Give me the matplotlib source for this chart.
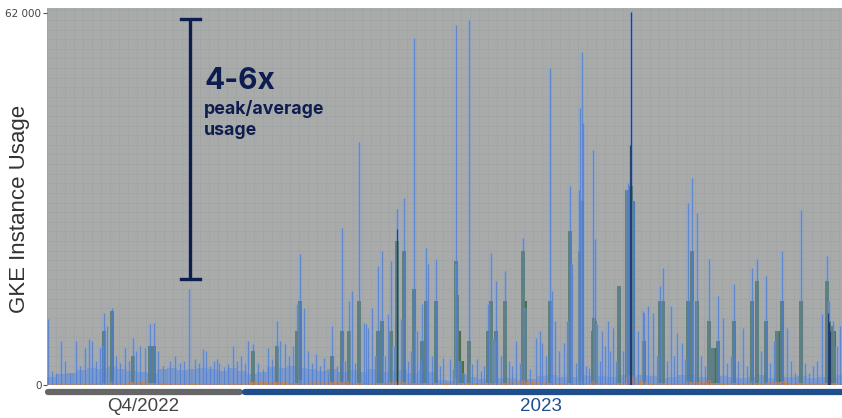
import matplotlib
matplotlib.use('Agg')
import matplotlib.pyplot as plt
from matplotlib.transforms import blended_transform_factory

# sample index along the time axis and GKE instance counts
blue_x = [1, 5, 9, 14, 18, 23, 29, 33, 38, 42,
          45, 49, 53, 55, 57, 60, 65, 69, 73, 78,
          82, 86, 89, 93, 98, 103, 107, 111, 116, 123,
          128, 133, 137, 142, 148, 152, 156, 159, 163, 167,
          170, 172, 177, 181, 186, 190, 194, 198, 201, 206,
          211, 216, 221, 225, 230, 233, 238, 242, 246, 250,
          253, 257, 261, 265, 269, 273, 277, 281, 285, 290,
          295, 298, 302, 305, 308, 312, 317, 319, 321, 325,
          328, 331, 335, 338, 341, 344, 347, 350, 354, 357,
          361, 364, 367, 370, 373, 375, 379, 381, 385, 389,
          393, 396, 403, 406, 409, 410, 413, 417, 422, 425,
          430, 434, 437, 441, 444, 446, 449, 450, 454, 458,
          462, 465, 469, 473, 476, 478, 483, 489, 493, 495,
          499, 503, 505, 508, 512, 517, 520, 523, 525, 529,
          532, 533, 535, 536, 539, 542, 546, 548, 550, 553,
          555, 558, 561, 563, 566, 569, 572, 576, 580, 581,
          584, 587, 591, 596, 597, 601, 606, 610, 613, 616,
          620, 624, 627, 630, 635, 638, 641, 645, 648, 650,
          654, 658, 662, 666, 671, 676, 680, 684, 687, 691,
          696, 700, 705, 710, 714, 719, 723, 727, 730, 735,
          740, 744, 748, 754, 758, 762, 766, 770, 775, 780,
          782, 786, 790, 793]
blue_y = [11000, 2300, 2000, 7300, 4000, 2000, 7300, 3200, 6200, 7700,
          7300, 4000, 6200, 6500, 12000, 9900, 12900, 4800, 3700, 6200,
          4000, 7800, 5700, 6500, 6200, 10200, 10400, 5700, 3200, 4000,
          4800, 3700, 4000, 16000, 4300, 3700, 6000, 5700, 3200, 4000,
          4300, 3700, 3000, 3500, 6500, 4000, 4800, 3700, 7300, 6800,
          3700, 2700, 6200, 4300, 10700, 7300, 6800, 4800, 6500, 13500,
          21900, 12900, 5700, 3700, 5200, 3200, 4500, 2000, 9900, 3200,
          26200, 4000, 14000, 15700, 3700, 40400, 10400, 10200, 9500, 12900,
          4800, 19900, 22400, 4800, 11900, 20700, 6500, 29400, 11000, 31200,
          4000, 5700, 57800, 9000, 4000, 13500, 22900, 20200, 4800, 21000,
          3200, 4500, 4300, 2700, 60000, 20200, 4000, 2000, 60800, 3500,
          4300, 2300, 3200, 13500, 22000, 7800, 17400, 7300, 4800, 19000,
          4000, 3200, 7300, 3700, 24500, 12900, 2700, 7800, 9000, 7000,
          4800, 52800, 15700, 10700, 5700, 7000, 10700, 33200, 20200, 3700,
          32400, 46100, 55400, 43600, 3200, 2800, 39100, 24400, 10200, 4000,
          9000, 6500, 10700, 5700, 9500, 4000, 16500, 5700, 32400, 33600,
          62100, 30700, 9000, 12400, 12000, 13200, 12000, 4800, 16500, 19500,
          4000, 13200, 4800, 8700, 7000, 4300, 30400, 34400, 14000, 28700,
          4800, 3200, 21000, 6200, 14900, 11200, 3700, 4800, 16900, 4000,
          9500, 3200, 19500, 21000, 5700, 18200, 3700, 7300, 9000, 22400,
          9500, 4000, 2000, 29100, 3700, 2000, 3200, 4000, 11900, 21500,
          14000, 10700, 6500, 9900]

green_x = [57, 65, 86, 103, 107, 206, 230, 250, 253, 285,
           295, 302, 312, 331, 335, 344, 350, 357, 367, 375,
           379, 389, 409, 410, 412, 415, 422, 441, 444, 449,
           458, 476, 478, 503, 523, 533, 535, 546, 547, 548,
           572, 580, 582, 584, 586, 597, 613, 616, 641, 645,
           650, 662, 666, 669, 671, 687, 705, 710, 719, 730,
           733, 735, 754, 780, 782, 784, 787]
green_y = [9000, 12400, 4800, 6500, 6500, 5700, 6500, 9000, 14000, 4800,
           9000, 9000, 14000, 9000, 10700, 9000, 24000, 22400, 16000, 7300,
           14000, 14000, 20700, 15000, 9000, 4000, 7300, 9000, 14000, 9000,
           14000, 22400, 14000, 14000, 25700, 22400, 30700, 9000, 11200, 10700,
           16500, 32400, 32400, 33200, 30700, 7300, 14000, 14000, 14000, 22400,
           14000, 10700, 6200, 6200, 7300, 10700, 14000, 17400, 10700, 9000,
           9000, 14000, 14000, 17400, 10700, 9900, 9000]

navy_x = [350, 583, 584, 781, 782, 783]
navy_y = [26000, 40000, 62100, 12000, 10500, 9000]

# low level background usage, one value per 10 samples
base_y = [1300, 1800, 2000, 2500, 2900, 2600, 3000, 2700, 2400, 2200,
          2000, 2600, 2800, 2500, 2700, 2900, 2600, 2400, 2800, 2300,
          1900, 2200, 3000, 2800, 3200, 2900, 2600, 2400, 2700, 2200,
          2500, 2200, 2600, 2100, 2300, 2500, 2000, 2400, 2200, 900,
          700, 1600, 1400, 1000, 900, 1100, 1200, 900, 1000, 1500,
          1700, 1400, 1300, 1600, 1500, 1500, 1400, 1700, 1300, 1600,
          1500, 1200, 1400, 1600, 1700, 1300, 1200, 1500, 1400, 1100,
          1300, 1600, 1200, 1400, 1300, 1500, 1200, 1400, 1300, 1600]
base_x = list(range(0, 800, 10))

# orange series: one value per 20 samples plus a few bumps
orange_base = [300, 400, 350, 300, 450, 400, 350, 400, 300, 350,
               500, 450, 400, 500, 450, 400, 350, 450, 300, 250,
               300, 350, 400, 450, 500, 400, 350, 300, 400, 450,
               350, 400, 450, 350, 300, 400, 450, 350, 400, 350]
orange_base_x = list(range(0, 800, 20))
orange_x = [65, 253, 300, 409, 476, 533, 546, 580, 582, 584, 586, 641, 662, 705, 735, 782]
orange_y = [600, 900, 700, 1100, 800, 900, 700, 1300, 1600, 1700, 1400, 700, 800, 700, 600, 800]

n_samples = 795
q4_end = 193
y_top = 62000

fig = plt.figure(figsize=(8.42, 4.18), dpi=100)
ax = fig.add_axes([47 / 842, 33 / 418, 795 / 842, 377 / 418])
ax.set_facecolor('#a9abab')

ax.bar(base_x, base_y, width=10, align='edge', color='#5a86d4', alpha=0.6, linewidth=0)
ax.vlines(blue_x, 0, blue_y, color='#86a8e4', alpha=0.35, linewidth=2.8)
ax.vlines(blue_x, 0, blue_y, color='#4a7bd2', alpha=0.7, linewidth=0.9)
ax.bar(green_x, green_y, width=3.4, color='#44683f', alpha=0.9, linewidth=0)
ax.vlines(navy_x, 0, navy_y, color='#14306a', alpha=0.8, linewidth=0.9)
ax.bar(orange_base_x, orange_base, width=20, align='edge', color='#e07b1f', alpha=0.85, linewidth=0)
ax.bar(orange_x, orange_y, width=3, color='#d0661a', alpha=0.95, linewidth=0)

ax.set_xlim(0, n_samples)
ax.set_ylim(0, 62800)

# fine grid
ax.set_xticks([], minor=False)
ax.set_xticks(range(0, n_samples, 9), minor=True)
ax.set_yticks(range(0, 62800, 1600), minor=True)
ax.set_yticks([0, y_top])
ax.set_yticklabels(['0', '62 000'], fontsize=7.5, color='#444444')
ax.grid(which='minor', color='#a0a3a4', linewidth=0.5)
ax.set_axisbelow(True)
ax.tick_params(axis='x', which='both', length=0)
ax.tick_params(axis='y', which='minor', length=0)
ax.tick_params(axis='y', which='major', length=3, width=0.8, color='#555555', pad=1)
for s in ax.spines.values():
    s.set_visible(False)

fig.text(20 / 842, 0.5, 'GKE Instance Usage', rotation=90, ha='center', va='center',
         fontsize=16, color='#333333', family='Liberation Sans')

# peak/average annotation
ax.plot([143, 143], [17700, 60970], color='#0d1d4f', linewidth=2.4, solid_capstyle='butt')
ax.plot([134, 153], [60970, 60970], color='#0d1d4f', linewidth=2.4)
ax.plot([134, 153], [17700, 17700], color='#0d1d4f', linewidth=2.4)
ax.text(157, 50600, '4-6x', fontsize=21.5, fontweight='bold', color='#0d1d4f',
        family='Inter', va='center', ha='left')
ax.text(157, 45900, 'peak/average', fontsize=12.8, fontweight='bold', color='#0d1d4f',
        family='Inter', va='center', ha='left')
ax.text(157, 42400, 'usage', fontsize=12.8, fontweight='bold', color='#0d1d4f',
        family='Inter', va='center', ha='left')

# period bars under the axis
tr = blended_transform_factory(ax.transData, ax.transAxes)
ax.plot([1, q4_end], [-0.019, -0.019], transform=tr, clip_on=False,
        color='#666666', linewidth=4.5, solid_capstyle='round')
ax.plot([q4_end + 5, n_samples], [-0.019, -0.019], transform=tr, clip_on=False,
        color='#1f4e8c', linewidth=4.5, solid_capstyle='round')
ax.text(q4_end / 2, -0.058, 'Q4/2022', transform=tr, ha='center', va='center',
        fontsize=13.5, color='#444444', family='Liberation Sans')
ax.text((q4_end + n_samples) / 2, -0.058, '2023', transform=tr, ha='center', va='center',
        fontsize=13.5, color='#1f4e8c', family='Liberation Sans')

fig.savefig('out.png', dpi=100)
